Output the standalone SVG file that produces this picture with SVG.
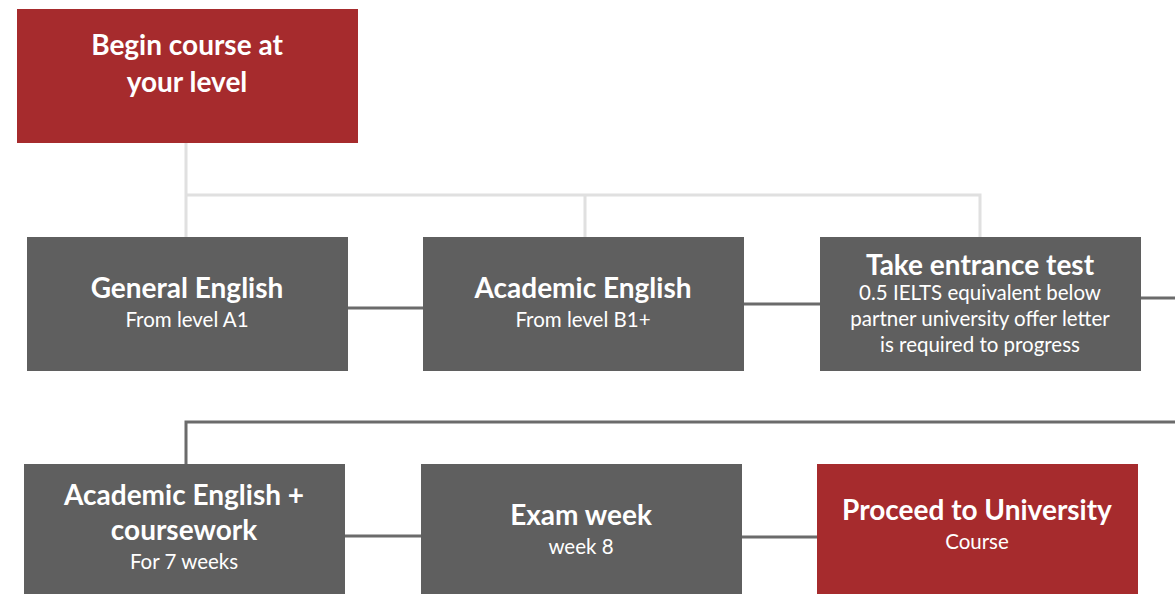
<svg xmlns="http://www.w3.org/2000/svg" width="1175" height="594" viewBox="0 0 1175 594">
<style>
.red{fill:#a62b2d}
.gray{fill:#5f5f5f}
.t{font-family:Lato,"Noto Sans",sans-serif;font-weight:bold;font-size:28px;fill:#fff;text-anchor:middle}
.s{font-family:Lato,"Noto Sans",sans-serif;font-size:20.5px;fill:#fff;text-anchor:middle}
.lc{stroke:#e0e0e0;stroke-width:3;fill:none}
.dc{stroke:#6b6b6b;stroke-width:3;fill:none}
</style>
<rect width="1175" height="594" fill="#fff"/>
<g id="connectors">
<path class="lc" d="M186 143V237M186 195H980V237M585 195V237"/>
<path class="dc" d="M348 308H423M744 304H820M1141 298H1175M1175 422H186V464M345 536H421M742 537H817"/>
</g>
<g id="begin">
<rect class="red" x="17" y="9" width="341" height="134"/>
<text class="t" x="187" y="55">Begin course at</text>
<text class="t" x="187" y="92">your level</text>
</g>
<g id="general">
<rect class="gray" x="27" y="237" width="321" height="134"/>
<text class="t" x="187" y="298">General English</text>
<text class="s" x="187" y="327">From level A1</text>
</g>
<g id="academic">
<rect class="gray" x="423" y="237" width="321" height="134"/>
<text class="t" x="583" y="298">Academic English</text>
<text class="s" x="583" y="327">From level B1+</text>
</g>
<g id="entrance">
<rect class="gray" x="820" y="237" width="321" height="134"/>
<text class="t" x="980" y="275">Take entrance test</text>
<text class="s" x="980" y="300">0.5 IELTS equivalent below</text>
<text class="s" x="980" y="326">partner university offer letter</text>
<text class="s" x="980" y="352">is required to progress</text>
</g>
<g id="coursework">
<rect class="gray" x="24" y="464" width="321" height="130"/>
<text class="t" x="184" y="505">Academic English +</text>
<text class="t" x="184" y="540">coursework</text>
<text class="s" x="184" y="569">For 7 weeks</text>
</g>
<g id="exam">
<rect class="gray" x="421" y="464" width="321" height="130"/>
<text class="t" x="581" y="525">Exam week</text>
<text class="s" x="581" y="554">week 8</text>
</g>
<g id="proceed">
<rect class="red" x="817" y="464" width="321" height="130"/>
<text class="t" x="977" y="520">Proceed to University</text>
<text class="s" x="977" y="549">Course</text>
</g>
</svg>
